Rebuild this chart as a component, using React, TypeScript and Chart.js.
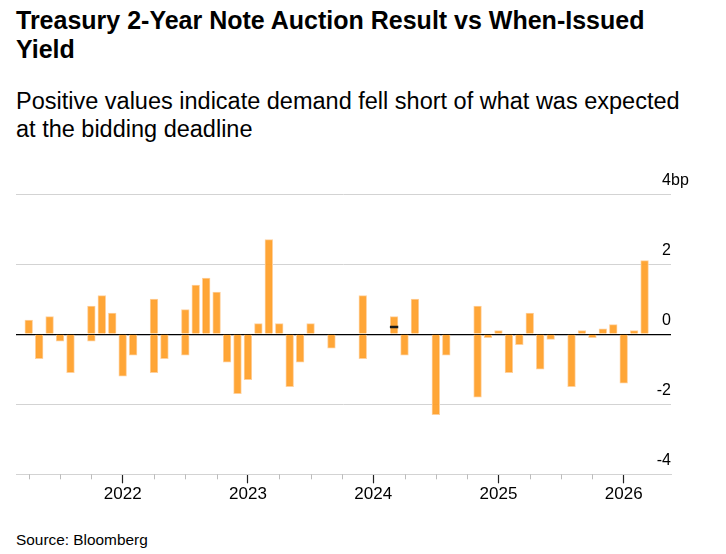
import { useEffect, useRef } from "react";
import { Chart, registerables } from "chart.js";

Chart.register(...registerables);

const FONT = "'Liberation Sans', Arial, Helvetica, sans-serif";

// auction months, Apr 2021 .. Mar 2026
const months = [
  "2021-04", "2021-05", "2021-06", "2021-07", "2021-08", "2021-09", "2021-10", "2021-11", "2021-12",
  "2022-01", "2022-02", "2022-03", "2022-04", "2022-05", "2022-06", "2022-07", "2022-08", "2022-09", "2022-10", "2022-11", "2022-12",
  "2023-01", "2023-02", "2023-03", "2023-04", "2023-05", "2023-06", "2023-07", "2023-08", "2023-09", "2023-10", "2023-11", "2023-12",
  "2024-01", "2024-02", "2024-03", "2024-04", "2024-05", "2024-06", "2024-07", "2024-08", "2024-09", "2024-10", "2024-11", "2024-12",
  "2025-01", "2025-02", "2025-03", "2025-04", "2025-05", "2025-06", "2025-07", "2025-08", "2025-09", "2025-10", "2025-11", "2025-12",
  "2026-01", "2026-02", "2026-03",
];

// auction result minus when-issued yield, bp (null = no bar)
const tailBp = [
  0.4, -0.7, 0.5, -0.2, -1.1, null, 0.8, 1.1, 0.6,
  -1.2, -0.6, null, 1.0, -0.7, null, 0.7, 1.4, 1.6, 1.2, -0.8, -1.7,
  -1.3, 0.3, 2.7, 0.3, -1.5, -0.8, 0.3, null, -0.4, null, null, 1.1,
  null, null, 0.5, -0.6, 1.0, null, -2.3, -0.6, null, null, 0.8, -0.1,
  0.1, -1.1, -0.3, 0.6, -1.0, -0.15, null, -1.5, 0.1, -0.1, 0.15, 0.27,
  -1.4, 0.1, 2.1,
];

// months where a second auction lands in the same slot
const secondMonths = ["2021-10", "2022-04", "2022-07", "2023-12", "2024-11"];
const secondBp = [-0.2, -1.1, -0.6, -0.7, -1.8];

// small marker inside the Mar 2024 bar
const markerMonth = "2024-03";
const markerBp = [0.18, 0.23];

const yearLabels = ["2022", "2023", "2024", "2025", "2026"];
const quarterStarts = ["01", "04", "07", "10"];
const yTicks = [-4, -2, 0, 2, 4];
const yUnit = "bp";

const idx = (m: string) => months.indexOf(m);
const yearIdx = yearLabels.map((y) => idx(`${y}-01`));
const xTicks = months
  .map((m, i) => ({ m, i }))
  .filter(({ m }) => quarterStarts.includes(m.slice(5)) && m <= "2026-01")
  .map(({ i }) => i);
const isMajor = (v: number) => yearIdx.includes(v);

const BAR = "rgba(255, 159, 40, 0.93)";
const BAR_EDGE = "rgba(255, 208, 155, 1)";

const axisExtras = {
  id: "axisExtras",
  afterDraw(chart: any) {
    const { ctx, chartArea, scales } = chart;
    const x = scales.x;
    const y = scales.y;
    ctx.save();
    ctx.strokeStyle = "#bcbcbc";
    ctx.lineWidth = 1;
    x.ticks.forEach((t: any) => {
      if (isMajor(t.value)) return;
      const px = Math.round(x.getPixelForValue(t.value)) + 0.5;
      ctx.beginPath();
      ctx.moveTo(px, chartArea.bottom);
      ctx.lineTo(px, chartArea.bottom + 5);
      ctx.stroke();
    });
    ctx.font = `16px ${FONT}`;
    ctx.fillStyle = "#000";
    ctx.textBaseline = "alphabetic";
    ctx.textAlign = "left";
    yTicks.forEach((v) => {
      const py = y.getPixelForValue(v) - 9;
      const txt = String(v);
      const w = ctx.measureText(txt).width;
      ctx.fillText(txt, chartArea.right - w, py);
      if (v === yTicks[yTicks.length - 1]) {
        ctx.fillText(yUnit, chartArea.right, py);
      }
    });
    ctx.restore();
  },
};

function AuctionChart() {
  const canvasRef = useRef<HTMLCanvasElement>(null);

  useEffect(() => {
    Chart.defaults.font.family = FONT;
    const chart = new Chart(canvasRef.current!, {
      type: "bar",
      data: {
        datasets: [
          {
            label: "marker",
            data: [{ x: idx(markerMonth), y: markerBp }] as any,
            backgroundColor: "#1a1a1a",
            borderWidth: 0,
            order: 0,
          },
          {
            label: "Auction result vs WI",
            data: tailBp
              .map((v, i) => ({ x: i, y: v }))
              .filter((p) => p.y !== null) as any,
            backgroundColor: BAR,
            borderColor: BAR_EDGE,
            borderWidth: 1,
            order: 1,
          },
          {
            label: "second auction",
            data: secondMonths.map((m, i) => ({ x: idx(m), y: secondBp[i] })) as any,
            backgroundColor: BAR,
            borderColor: BAR_EDGE,
            borderWidth: 1,
            order: 2,
          },
        ],
      },
      options: {
        animation: false,
        responsive: false,
        datasets: { bar: { barThickness: 7.7, grouped: false } },
        layout: { padding: { left: 16, right: 55, top: 34, bottom: 0 } },
        plugins: { legend: { display: false }, tooltip: { enabled: false } },
        scales: {
          x: {
            type: "linear",
            offset: false,
            min: -1.22,
            max: 61.53,
            afterBuildTicks: (s: any) => {
              s.ticks = xTicks.map((v) => ({ value: v }));
            },
            afterFit: (s: any) => {
              s.height = 35.7;
            },
            grid: {
              offset: false,
              drawOnChartArea: false,
              tickLength: 9,
              tickWidth: 1.2,
              tickColor: (c: any) => (c.tick && isMajor(c.tick.value) ? "#222" : "rgba(0,0,0,0)"),
            },
            border: { color: "#d3d3d3", width: 1 },
            ticks: {
              autoSkip: false,
              maxRotation: 0,
              padding: 1,
              color: "#000",
              font: { size: 17 },
              callback: (v: any) => {
                const k = yearIdx.indexOf(Number(v));
                return k >= 0 ? yearLabels[k] : "";
              },
            },
          },
          y: {
            position: "right",
            min: -4,
            max: 4,
            afterBuildTicks: (s: any) => {
              s.ticks = yTicks.map((v) => ({ value: v }));
            },
            afterFit: (s: any) => {
              s.width = 0;
            },
            grid: {
              drawTicks: false,
              color: (c: any) => (c.tick && c.tick.value === 0 ? "#000" : "#d3d3d3"),
              lineWidth: (c: any) => (c.tick && c.tick.value === 0 ? 1.3 : 1),
            },
            border: { display: false },
            ticks: { display: false },
          },
        },
      },
      plugins: [axisExtras],
    });

    return () => chart.destroy();
  }, []);

  return (
    <canvas
      ref={canvasRef}
      width={726}
      height={350}
      style={{ position: "absolute", left: 0, top: 160, width: 726, height: 350 }}
    ></canvas>
  );
}

export default function App() {
  return (
    <div
      style={{
        position: "absolute",
        left: 0,
        top: 0,
        width: 726,
        height: 554,
        overflow: "hidden",
        background: "#fff",
        fontFamily: FONT,
        color: "#000",
      }}
    >
      <div
        style={{
          position: "absolute",
          left: 16,
          top: 6,
          width: 675,
          fontSize: 25,
          lineHeight: "29px",
          fontWeight: "bold",
        }}
      >
        Treasury 2-Year Note Auction Result vs When-Issued Yield
      </div>
      <div
        style={{
          position: "absolute",
          left: 16,
          top: 87,
          width: 675,
          fontSize: 23.5,
          lineHeight: "28px",
        }}
      >
        Positive values indicate demand fell short of what was expected at the bidding deadline
      </div>
      <AuctionChart />
      <div
        style={{
          position: "absolute",
          left: 16,
          top: 531,
          fontSize: 15.4,
          lineHeight: "18px",
        }}
      >
        Source: Bloomberg
      </div>
    </div>
  );
}
